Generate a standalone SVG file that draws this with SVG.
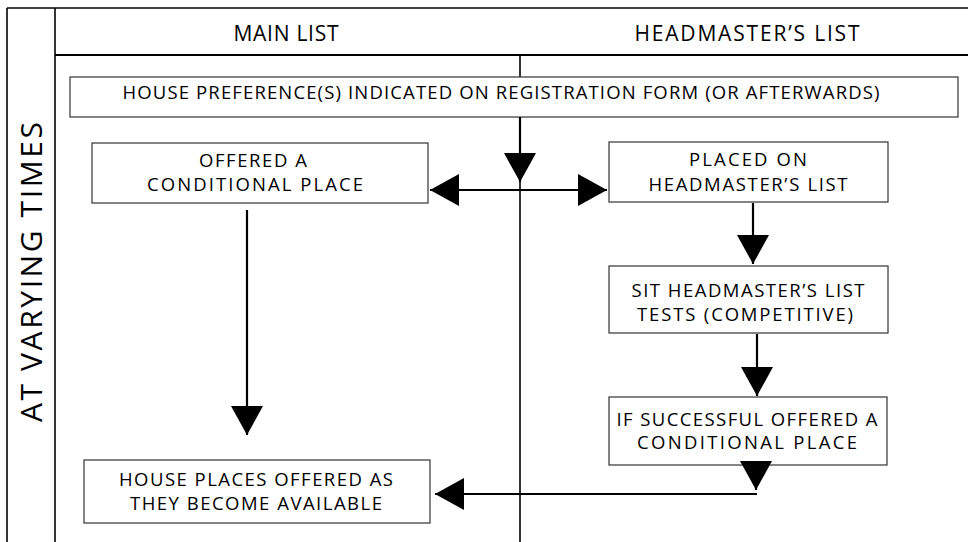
<svg xmlns="http://www.w3.org/2000/svg" width="968" height="542" viewBox="0 0 968 542">
<style>
  .frame { stroke: #000; stroke-width: 1.6; fill: none; }
  .hdr { stroke: #000; stroke-width: 2.2; fill: none; }
  .box { fill: #fff; stroke: #333; stroke-width: 1.2; }
  .t { font-family: "Open Sans", "Liberation Sans", sans-serif; font-size: 18.5px; fill: #000; text-anchor: middle; }
  .h { font-family: "Open Sans", "Liberation Sans", sans-serif; font-size: 21px; fill: #000; text-anchor: middle; }
  .v { font-family: "Open Sans", "Liberation Sans", sans-serif; font-size: 30px; fill: #000; text-anchor: middle; }
  .c { stroke: #000; stroke-width: 2.2; fill: none; }
</style>
<defs>
  <marker id="ah" markerUnits="userSpaceOnUse" markerWidth="30" markerHeight="34" refX="29" refY="16" orient="auto-start-reverse" viewBox="0 0 30 34">
    <path d="M0,0 L29,16 L0,32 z" fill="#000"/>
  </marker>
</defs>
<rect width="968" height="542" fill="#fff"/>
<g id="frame">
  <line class="frame" x1="7" y1="8" x2="968" y2="8"/>
  <line class="frame" x1="7" y1="8" x2="7" y2="542"/>
  <line class="frame" x1="55" y1="8" x2="55" y2="542"/>
  <line class="hdr" x1="55" y1="55" x2="968" y2="55"/>
  <line class="frame" x1="520" y1="55" x2="520" y2="542"/>
  <text class="h" x="286" y="41" textLength="105" lengthAdjust="spacing">MAIN LIST</text>
  <text class="h" x="747" y="41" textLength="225" lengthAdjust="spacing">HEADMASTER’S LIST</text>
  <text class="v" transform="translate(42,272) rotate(-90)" x="0" y="0" textLength="300" lengthAdjust="spacing">AT VARYING TIMES</text>
</g>
<g id="n-preference">
  <rect class="box" x="70" y="77" width="888" height="40"/>
  <text class="t" x="501" y="99" textLength="757" lengthAdjust="spacing">HOUSE PREFERENCE(S) INDICATED ON REGISTRATION FORM (OR AFTERWARDS)</text>
</g>
<g id="n-offered">
  <rect class="box" x="92" y="143" width="336" height="60"/>
  <text class="t" x="253" y="167" textLength="108" lengthAdjust="spacing">OFFERED A</text>
  <text class="t" x="255" y="191" textLength="216" lengthAdjust="spacing">CONDITIONAL PLACE</text>
</g>
<g id="n-placed">
  <rect class="box" x="609" y="142" width="279" height="60"/>
  <text class="t" x="748" y="166" textLength="118" lengthAdjust="spacing">PLACED ON</text>
  <text class="t" x="748" y="191" textLength="199" lengthAdjust="spacing">HEADMASTER’S LIST</text>
</g>
<g id="n-sit">
  <rect class="box" x="609" y="266" width="279" height="67"/>
  <text class="t" x="748" y="297" textLength="233" lengthAdjust="spacing">SIT HEADMASTER’S LIST</text>
  <text class="t" x="745" y="321" textLength="216" lengthAdjust="spacing">TESTS (COMPETITIVE)</text>
</g>
<g id="n-success">
  <rect class="box" x="609" y="397" width="278" height="68"/>
  <text class="t" x="747" y="426" textLength="261" lengthAdjust="spacing">IF SUCCESSFUL OFFERED A</text>
  <text class="t" x="747" y="449" textLength="220" lengthAdjust="spacing">CONDITIONAL PLACE</text>
</g>
<g id="n-house">
  <rect class="box" x="84" y="460" width="346" height="63"/>
  <text class="t" x="256" y="486" textLength="274" lengthAdjust="spacing">HOUSE PLACES OFFERED AS</text>
  <text class="t" x="256" y="510" textLength="252" lengthAdjust="spacing">THEY BECOME AVAILABLE</text>
</g>
<g id="connectors">
  <path class="c" d="M520,117 L520,182" marker-end="url(#ah)"/>
  <path class="c" d="M430,190 L607,190" marker-start="url(#ah)" marker-end="url(#ah)"/>
  <path class="c" d="M753,203 L753,264" marker-end="url(#ah)"/>
  <path class="c" d="M757,334 L757,396" marker-end="url(#ah)"/>
  <path class="c" d="M756,464 L756,490" marker-end="url(#ah)"/>
  <path class="c" d="M757,494 L435,494" marker-end="url(#ah)"/>
  <path class="c" d="M247,210 L247,435" marker-end="url(#ah)"/>
</g>
</svg>
